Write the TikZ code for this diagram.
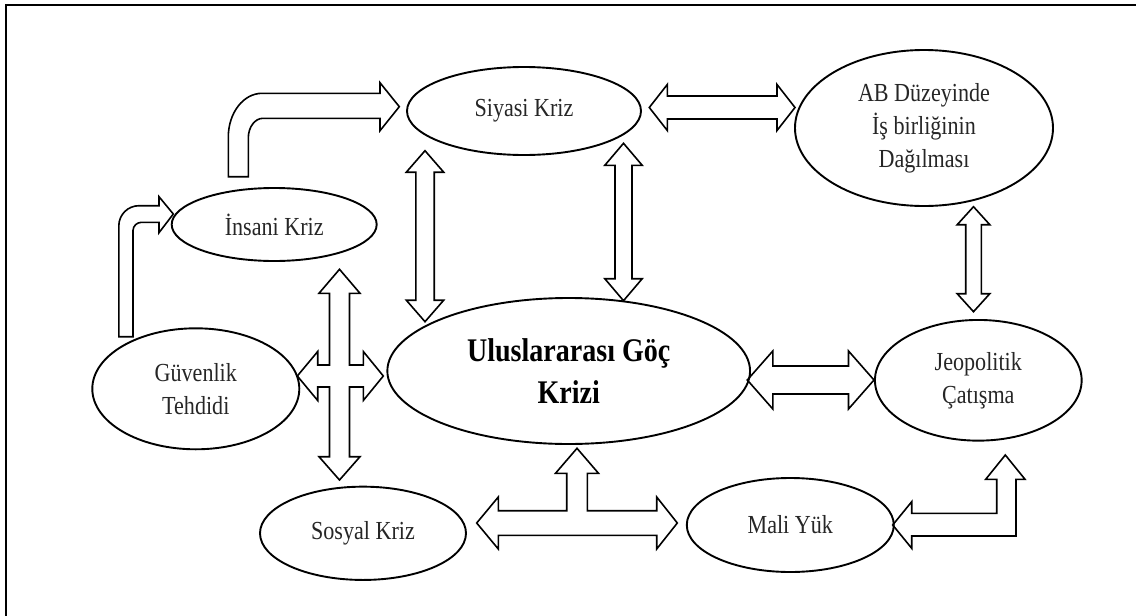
\documentclass[tikz,border=0pt]{standalone}
\usepackage{fontspec}
\setmainfont{Liberation Serif}[FakeStretch=0.85]
\usetikzlibrary{shapes.geometric}

% straight double block arrows
% \vdarr{centre x}{top tip y}{bottom tip y}{shaft half width}{head half width}{head length}
\newcommand\vdarr[6]{%
  \draw[blockarrow] (#1,#2) -- ({#1+#5},{#2+#6}) -- ({#1+#4},{#2+#6}) -- ({#1+#4},{#3-#6})
    -- ({#1+#5},{#3-#6}) -- (#1,#3) -- ({#1-#5},{#3-#6}) -- ({#1-#4},{#3-#6})
    -- ({#1-#4},{#2+#6}) -- ({#1-#5},{#2+#6}) -- cycle;}
% \hdarr{centre y}{left tip x}{right tip x}{shaft half width}{head half width}{head length}
\newcommand\hdarr[6]{%
  \draw[blockarrow] (#2,#1) -- ({#2+#6},{#1-#5}) -- ({#2+#6},{#1-#4}) -- ({#3-#6},{#1-#4})
    -- ({#3-#6},{#1-#5}) -- (#3,#1) -- ({#3-#6},{#1+#5}) -- ({#3-#6},{#1+#4})
    -- ({#2+#6},{#1+#4}) -- ({#2+#6},{#1+#5}) -- cycle;}

\begin{document}
\begin{tikzpicture}[x=1pt, y=-1pt,
  bubble/.style={ellipse, draw, line width=1.9pt, inner sep=0pt, align=center,
                 text=black!85, font=\fontsize{26}{33}\selectfont},
  blockarrow/.style={draw, line width=1.6pt, fill=white, line join=miter, miter limit=12}]
\useasboundingbox (0,0) rectangle (1136,616);

% frame (top and left edges)
\draw[line width=2.5pt] (6,616) -- (6,5) -- (1136,5);

% --- block arrows ---
% Siyasi Kriz <-> AB
\hdarr{107.5}{649.3}{795}{11.5}{23}{18}
% Siyasi Kriz <-> Uluslararasi (two)
\vdarr{425}{150.7}{321.7}{9.2}{18.7}{21.5}
\vdarr{623.5}{143.3}{300.7}{8.5}{18.7}{22}
% AB <-> Jeopolitik
\vdarr{973.5}{206.7}{311.7}{7.8}{16.3}{18}
% Uluslararasi <-> Jeopolitik
\hdarr{380}{747.3}{874}{14}{29}{25.5}

% Insani -> Siyasi (bent)
\draw[blockarrow] (228.3,176.7) -- (228.3,137) .. controls (228.3,112.9) and (243.4,93.3) .. (262,93.3)
  -- (380,93.3) -- (380,82.7) -- (399.3,106.7) -- (380,130.7) -- (380,118.3) -- (263,118.3)
  .. controls (254.9,118.3) and (248.3,127.1) .. (248.3,138) -- (248.3,176.7) -- cycle;

% Guvenlik -> Insani (bent)
\draw[blockarrow] (118.8,336.7) -- (118.8,226) .. controls (118.8,214.5) and (128,205.7) .. (139,205.7)
  -- (159,205.7) -- (159,196.7) -- (173.3,214) -- (159,232.7) -- (159,222.3) -- (141.5,222.3)
  .. controls (137,222.3) and (133,226) .. (133,230.5) -- (133,336.7) -- cycle;

% four-way arrow between Insani, Guvenlik, Uluslararasi, Sosyal
\draw[blockarrow] (339.5,269.3) -- (360,293.3) -- (349.5,293.3) -- (349.5,365) -- (363.3,365)
  -- (363.3,351.5) -- (383.3,376) -- (363.3,400.5) -- (363.3,387) -- (349.5,387) -- (349.5,456.7)
  -- (360,456.7) -- (339.5,480) -- (319,456.7) -- (329.5,456.7) -- (329.5,387) -- (317.7,387)
  -- (317.7,400.5) -- (297.3,376) -- (317.7,351.5) -- (317.7,365) -- (329.5,365) -- (329.5,293.3)
  -- (319,293.3) -- cycle;

% T-arrow between Uluslararasi, Sosyal, Mali Yuk
\draw[blockarrow] (577,448.3) -- (598.5,473.3) -- (587.3,473.3) -- (587.3,510.7) -- (656.7,510.7)
  -- (656.7,497) -- (677.3,523) -- (656.7,549) -- (656.7,535.3) -- (498.3,535.3) -- (498.3,549)
  -- (476.7,523) -- (498.3,497) -- (498.3,510.7) -- (566.7,510.7) -- (566.7,473.3) -- (555.5,473.3)
  -- cycle;

% Mali Yuk <-> Jeopolitik (bent)
\draw[blockarrow] (892.7,525) -- (911.7,501.7) -- (911.7,513.3) -- (996.7,513.3) -- (996.7,479.3)
  -- (985.7,479.3) -- (1005.3,455) -- (1025,479.3) -- (1016,479.3) -- (1016,536) -- (911.7,536)
  -- (911.7,548.3) -- cycle;

% --- ellipses ---
\node[bubble, minimum width=234pt, minimum height=88pt] (siyasi) at (524,111) {Siyasi Kriz};
\node[bubble, minimum width=205pt, minimum height=73pt] (insani) at (274.2,224.5) {İnsani Kriz};
\node[bubble, minimum width=258pt, minimum height=156pt] (ab) at (924,128)
  {AB Düzeyinde\\İş birliğinin\\Dağılması};
\node[bubble, minimum width=206.7pt, minimum height=120.7pt] (jeo) at (978.3,380.3)
  {Jeopolitik\\Çatışma};
\node[bubble, minimum width=207pt, minimum height=94pt] (mali) at (790.3,525) {Mali Yük};
\node[bubble, minimum width=206pt, minimum height=93.3pt] (sosyal) at (363,533.3) {Sosyal Kriz};
\node[bubble, minimum width=207pt, minimum height=121pt] (guven) at (195.8,388.8)
  {Güvenlik\\Tehdidi};
\node[bubble, minimum width=362.7pt, minimum height=146pt, text=black,
      font=\fontsize{33}{42}\selectfont\bfseries] (ulus) at (568.7,371)
  {Uluslararası Göç\\Krizi};
\end{tikzpicture}
\end{document}
